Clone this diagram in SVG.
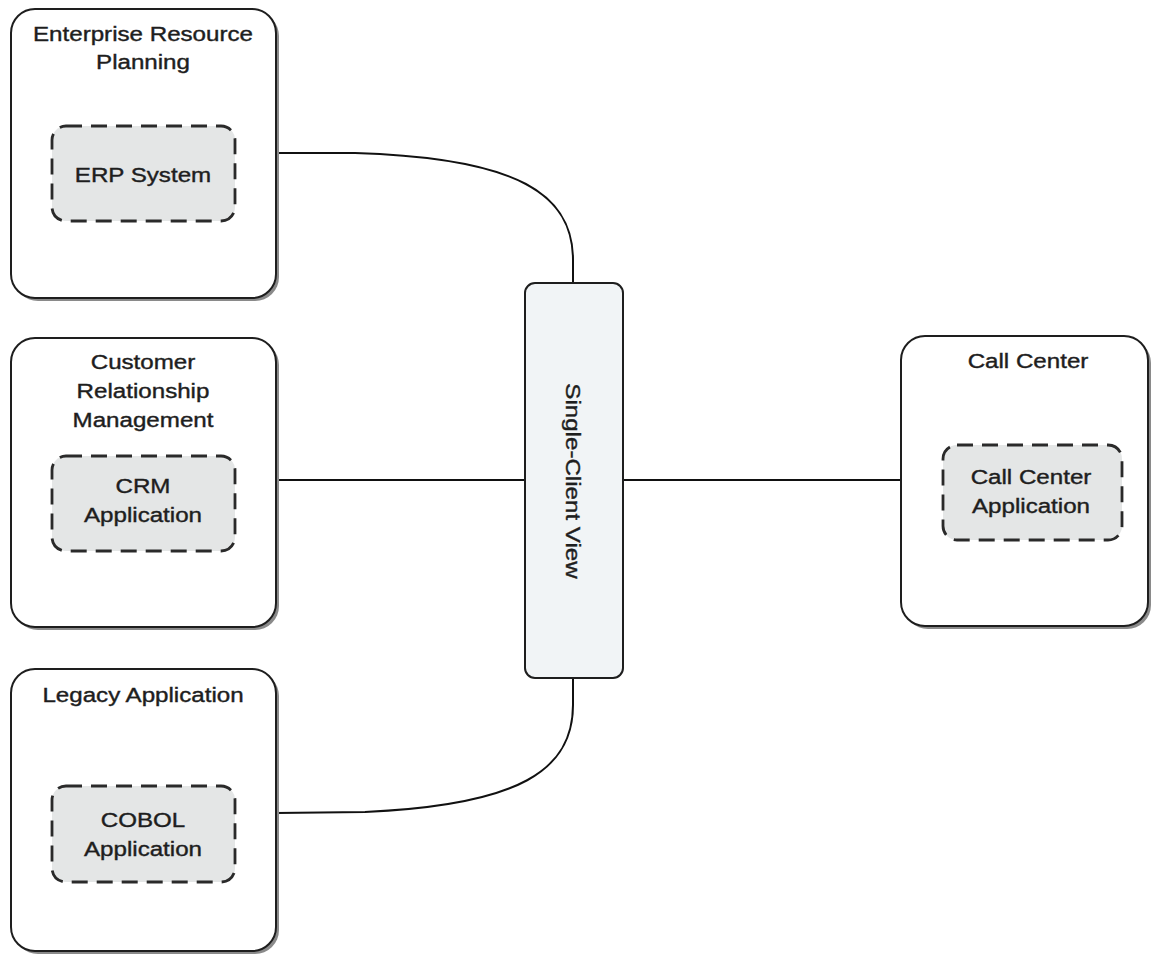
<svg xmlns="http://www.w3.org/2000/svg" width="1151" height="956" viewBox="0 0 1151 956">
<style>
.shadow{fill:#8a8a8a;}
.outer{fill:#ffffff;stroke:#1e1e1e;stroke-width:2;}
.inner{fill:#e4e6e6;stroke:#2a2a2a;stroke-width:2.8;stroke-dasharray:16 9;}
.hub{fill:#f1f4f6;stroke:#1e1e1e;stroke-width:2;}
.conn{fill:none;stroke:#111;stroke-width:2;}
text{font-family:"Liberation Sans",Arial,sans-serif;font-size:21px;fill:#1e1e1e;stroke:#1e1e1e;stroke-width:0.4;text-anchor:middle;}
</style>
<rect width="1151" height="956" fill="#ffffff"/>
<g id="connectors">
<path class="conn" d="M276,153 L355,153 C520,158 573,195 573,260 L573,284"/>
<path class="conn" d="M276,480 L525,480"/>
<path class="conn" d="M623,480 L901,480"/>
<path class="conn" d="M573,678 L573,705 C573,770 520,805 365,812 L276,813"/>
</g>
<g id="erp">
<rect class="shadow" x="14" y="12" width="265" height="289" rx="24"/>
<rect class="outer" x="11" y="9" width="265" height="289" rx="24"/>
<text transform="translate(143,41) scale(1.15,1)">Enterprise Resource</text>
<text transform="translate(143,69) scale(1.15,1)">Planning</text>
<g id="erp-system">
<rect class="inner" x="52" y="126" width="183" height="95" rx="14"/>
<text transform="translate(143,182) scale(1.15,1)">ERP System</text>
</g>
</g>
<g id="crm">
<rect class="shadow" x="14" y="341" width="265" height="289" rx="24"/>
<rect class="outer" x="11" y="338" width="265" height="289" rx="24"/>
<text transform="translate(143,369) scale(1.15,1)">Customer</text>
<text transform="translate(143,398) scale(1.15,1)">Relationship</text>
<text transform="translate(143,427) scale(1.15,1)">Management</text>
<g id="crm-app">
<rect class="inner" x="52" y="456" width="183" height="95" rx="14"/>
<text transform="translate(143,493) scale(1.15,1)">CRM</text>
<text transform="translate(143,522) scale(1.15,1)">Application</text>
</g>
</g>
<g id="legacy">
<rect class="shadow" x="14" y="672" width="265" height="282" rx="24"/>
<rect class="outer" x="11" y="669" width="265" height="282" rx="24"/>
<text transform="translate(143,702) scale(1.15,1)">Legacy Application</text>
<g id="cobol-app">
<rect class="inner" x="52" y="786" width="183" height="96" rx="14"/>
<text transform="translate(143,827) scale(1.15,1)">COBOL</text>
<text transform="translate(143,856) scale(1.15,1)">Application</text>
</g>
</g>
<g id="call-center">
<rect class="shadow" x="904" y="339" width="247" height="290" rx="24"/>
<rect class="outer" x="901" y="336" width="247" height="290" rx="24"/>
<text transform="translate(1028,368) scale(1.15,1)">Call Center</text>
<g id="call-center-app">
<rect class="inner" x="943" y="445" width="179" height="95" rx="14"/>
<text transform="translate(1031,484) scale(1.15,1)">Call Center</text>
<text transform="translate(1031,513) scale(1.15,1)">Application</text>
</g>
</g>
<g id="single-client-view">
<rect class="hub" x="525" y="283" width="98" height="395" rx="10"/>
<text transform="translate(566,481) rotate(90) scale(1.15,1)">Single-Client View</text>
</g>
</svg>
